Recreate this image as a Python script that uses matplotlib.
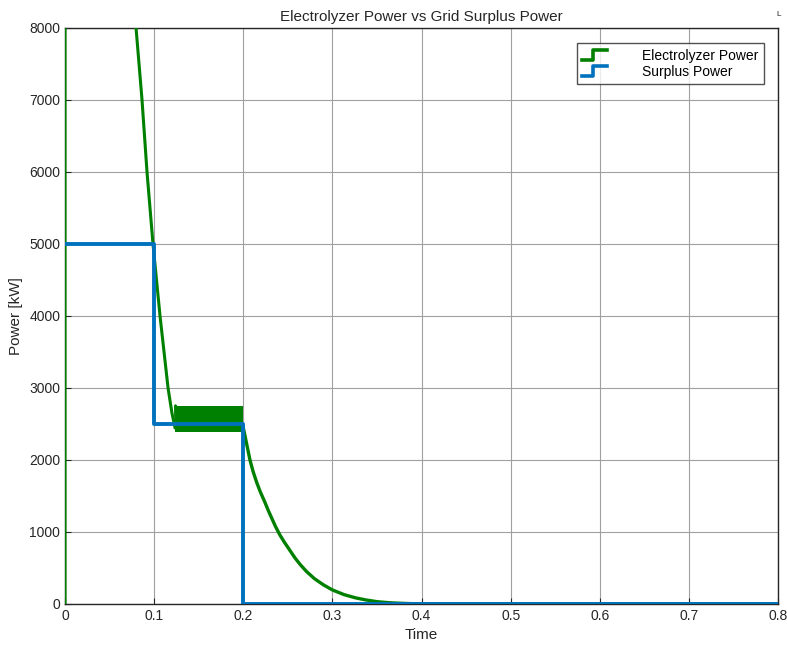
import matplotlib
matplotlib.use("Agg")
import matplotlib.pyplot as plt
from matplotlib.legend_handler import HandlerBase
from matplotlib.lines import Line2D

# Electrolyzer power (kW)
elec_t = [0.0, 0.0, 0.0005, 0.070, 0.0797, 0.0864, 0.092, 0.0987, 0.1066, 0.1156, 0.1200, 0.1234]
elec_p = [0, 8600, 30000, 9600, 8000, 7000, 6000, 5000, 4000, 3000, 2650, 2450]
# ripple band between 0.123 and 0.2
ripple_t = [0.1234, 0.2]
ripple_low = [2390, 2390]
ripple_high = [2750, 2750]
spike_t = [0.1234, 0.1240, 0.1250]
spike_p = [2450, 2760, 2450]
# decay after 0.2
decay_t = [0.2, 0.204, 0.2075, 0.211, 0.215, 0.219, 0.224, 0.228, 0.232, 0.236, 0.241, 0.246,
           0.252, 0.258, 0.2637, 0.271, 0.28, 0.29, 0.30, 0.313, 0.326, 0.338, 0.35, 0.363,
           0.376, 0.39, 0.40, 0.8]
decay_p = [2450, 2210, 2000, 1840, 1690, 1560, 1420, 1300, 1190, 1080, 960, 860,
           750, 640, 550, 450, 350, 265, 195, 130, 85, 55, 32, 18,
           10, 4, 0, 0]

# Surplus power step
surplus_t = [0.0, 0.1, 0.2, 0.8]
surplus_p = [5000, 2500, 0, 0]

green = "#008000"
blue = "#0072BD"


class StepHandler(HandlerBase):
    def create_artists(self, legend, orig_handle, xdescent, ydescent,
                       width, height, fontsize, trans):
        w, h = width, height
        xs = [0, 0.45 * w, 0.45 * w, w]
        ys = [0.0 * h, 0.0 * h, 0.95 * h, 0.95 * h]
        xs = [x - xdescent for x in xs]
        ys = [y - ydescent for y in ys]
        ln = Line2D(xs, ys, color=orig_handle.get_color(),
                    linewidth=orig_handle.get_linewidth(), transform=trans)
        return [ln]


def main():
    plt.rcParams['font.family'] = ['Liberation Sans', 'DejaVu Sans']
    fig = plt.figure(figsize=(7.87, 6.45), dpi=100)
    ax = fig.add_axes([0.0826, 0.0636, 0.9061, 0.8930])

    ax.plot(elec_t, elec_p, color=green, linewidth=2.2, zorder=3)
    ax.fill_between(ripple_t, ripple_low, ripple_high, color=green, linewidth=0, zorder=3)
    ax.plot(spike_t, spike_p, color=green, linewidth=1.5, zorder=3)
    ax.plot(decay_t, decay_p, color=green, linewidth=2.4, zorder=3)
    ax.step(surplus_t, surplus_p, where="post", color=blue, linewidth=2.8, zorder=4)

    ax.set_xlim(0, 0.8)
    ax.set_ylim(0, 8000)
    ax.set_xticks([0, 0.1, 0.2, 0.3, 0.4, 0.5, 0.6, 0.7, 0.8])
    ax.set_xticklabels(["0", "0.1", "0.2", "0.3", "0.4", "0.5", "0.6", "0.7", "0.8"])
    ax.set_yticks(range(0, 8001, 1000))
    ax.tick_params(direction="in", labelsize=10, length=4, colors="#262626")
    ax.grid(True, color="#a0a0a0", linewidth=0.8)
    ax.set_axisbelow(True)
    for s in ax.spines.values():
        s.set_color("#262626")
        s.set_linewidth(1.0)

    ax.set_xlabel("Time", fontsize=11, color="#262626", labelpad=4)
    ax.set_ylabel("Power [kW]", fontsize=11, color="#262626", labelpad=4)
    ax.set_title("Electrolyzer Power vs Grid Surplus Power", fontsize=11, color="#262626", pad=5)

    h1 = Line2D([], [], color=green, linewidth=2.6)
    h2 = Line2D([], [], color=blue, linewidth=2.6)
    leg = ax.legend([h1, h2], ["Electrolyzer Power", "Surplus Power"],
                    handler_map={Line2D: StepHandler()},
                    loc="upper right", bbox_to_anchor=(0.980, 0.974),
                    fontsize=10, frameon=True, fancybox=False,
                    handlelength=1.8, handletextpad=2.5, borderpad=0.4,
                    labelspacing=0.15, borderaxespad=0.0)
    leg.get_frame().set_edgecolor("#262626")
    leg.get_frame().set_linewidth(1.0)

    fig.text(0.993, 0.983, "L", fontsize=6, color="#262626", ha="right", va="top")

    fig.savefig("out.png", dpi=100)
    plt.close()


if __name__ == "__main__":
    main()
